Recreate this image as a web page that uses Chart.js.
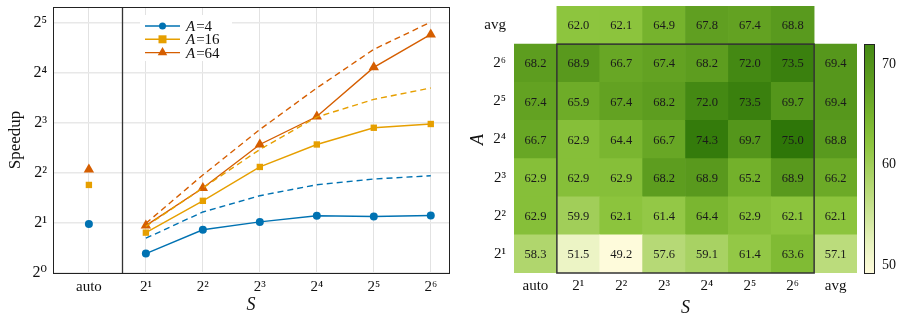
<!DOCTYPE html>
<html><head><meta charset="utf-8">
<script src="https://cdn.jsdelivr.net/npm/chart.js@4.4.0/dist/chart.umd.min.js"></script>
<style>
html,body{margin:0;padding:0;background:#fff;}
#wrap{position:relative;width:903px;height:320px;overflow:hidden;background:#fff;}
#c1{position:absolute;left:0;top:0;}
#c2{position:absolute;left:455px;top:0;}
</style></head><body>
<div id="wrap">
<canvas id="c1" width="460" height="320"></canvas>
<canvas id="c2" width="448" height="320"></canvas>
</div>
<script>
// ---------------- left panel data ----------------
const xTickLabels = ['auto', '2¹', '2²', '2³', '2⁴', '2⁵', '2⁶'];
const yTickValues = [1, 2, 4, 8, 16, 32];
const yTickLabels = ['2⁰', '2¹', '2²', '2³', '2⁴', '2⁵'];
const seriesNames = ['4', '16', '64'];
const autoSpeedup = [1.97, 3.39, 4.2];            // "auto" point for A=4, 16, 64
const speedA4  = [1.31, 1.82, 2.03, 2.21, 2.19, 2.22];   // S = 2^1 .. 2^6
const speedA16 = [1.75, 2.72, 4.35, 5.94, 7.49, 7.89];
const speedA64 = [1.93, 3.25, 5.94, 8.75, 17.3, 27.3];
const idealA4  = [1.62, 2.33, 2.92, 3.40, 3.68, 3.85];   // dashed lines
const idealA16 = [1.91, 3.25, 5.54, 8.69, 11.1, 13.0];
const idealA64 = [1.99, 3.89, 7.31, 13.0, 22.2, 32.4];

// ---------------- right panel data ----------------
const colLabels = ['auto', '2¹', '2²', '2³', '2⁴', '2⁵', '2⁶', 'avg'];
const rowLabels = ['2¹', '2²', '2³', '2⁴', '2⁵', '2⁶', 'avg'];   // bottom -> top
const heatA2  = [58.3, 51.5, 49.2, 57.6, 59.1, 61.4, 63.6, 57.1];
const heatA4  = [62.9, 59.9, 62.1, 61.4, 64.4, 62.9, 62.1, 62.1];
const heatA8  = [62.9, 62.9, 62.9, 68.2, 68.9, 65.2, 68.9, 66.2];
const heatA16 = [66.7, 62.9, 64.4, 66.7, 74.3, 69.7, 75.0, 68.8];
const heatA32 = [67.4, 65.9, 67.4, 68.2, 72.0, 73.5, 69.7, 69.4];
const heatA64 = [68.2, 68.9, 66.7, 67.4, 68.2, 72.0, 73.5, 69.4];
const heatAvg = [null, 62.0, 62.1, 64.9, 67.8, 67.4, 68.8, null];
const cbTicks = [50, 60, 70];
const cbMin = 49.2, cbMax = 72.0;

// ---------------- styles ----------------
const SERIF = "'Liberation Serif','DejaVu Serif',serif";
const BLUE = '#0072B2', YEL = '#E69F00', ORA = '#D55E00';
const seriesColors = [BLUE, YEL, ORA];
const seriesMarkers = ['circle', 'rect', 'triangle'];
const markerRadius = [4, 4.5, 6];

const cmapStops = [
  [49.2, [254, 251, 219]], [52, [232, 243, 192]], [57, [188, 220, 125]],
  [60, [160, 206, 88]], [62, [141, 197, 62]], [65, [117, 178, 44]],
  [68, [94, 158, 32]], [70, [82, 148, 26]], [73.5, [58, 128, 14]], [75, [46, 118, 8]]
];
function cmap(v) {
  if (v <= cmapStops[0][0]) return 'rgb(' + cmapStops[0][1].join(',') + ')';
  for (let i = 1; i < cmapStops.length; i++) {
    if (v <= cmapStops[i][0]) {
      const [a, ca] = cmapStops[i - 1], [b, cb] = cmapStops[i];
      const t = (v - a) / (b - a);
      return 'rgb(' + ca.map((c, k) => Math.round(c + (cb[k] - c) * t)).join(',') + ')';
    }
  }
  return 'rgb(' + cmapStops[cmapStops.length - 1][1].join(',') + ')';
}
function fitV(w) { return s => { s.width = w; s.paddingTop = 0; s.paddingBottom = 0; }; }
function fitH(h) { return s => { s.height = h; s.paddingLeft = 0; s.paddingRight = 0; }; }

// ---------------- left chart ----------------
const speedSeries = [speedA4, speedA16, speedA64];
const idealSeries = [idealA4, idealA16, idealA64];
const pts = arr => arr.map((v, i) => ({ x: i + 1, y: v }));
const leftDatasets = [];
idealSeries.forEach((arr, k) => leftDatasets.push({
  label: 'ideal A=' + seriesNames[k], data: pts(arr), showLine: true,
  borderColor: seriesColors[k], borderWidth: 1.4, borderDash: [6, 4], pointRadius: 0
}));
speedSeries.forEach((arr, k) => leftDatasets.push({
  label: 'A=' + seriesNames[k], data: pts(arr), showLine: true,
  borderColor: seriesColors[k], backgroundColor: seriesColors[k], borderWidth: 1.4,
  pointStyle: seriesMarkers[k], pointRadius: markerRadius[k], pointBorderWidth: 0
}));
autoSpeedup.forEach((v, k) => leftDatasets.push({
  label: 'auto A=' + seriesNames[k], data: [{ x: 0, y: v }], showLine: false,
  borderColor: seriesColors[k], backgroundColor: seriesColors[k],
  pointStyle: seriesMarkers[k], pointRadius: markerRadius[k], pointBorderWidth: 0
}));

function drawMarker(ctx, style, x, y, r, color) {
  ctx.save(); ctx.fillStyle = color; ctx.beginPath();
  if (style === 'circle') ctx.arc(x, y, r, 0, Math.PI * 2);
  else if (style === 'rect') ctx.rect(x - r, y - r, 2 * r, 2 * r);
  else { ctx.moveTo(x, y - r); ctx.lineTo(x + r * 0.866, y + r * 0.5); ctx.lineTo(x - r * 0.866, y + r * 0.5); ctx.closePath(); }
  ctx.fill(); ctx.restore();
}

const leftDecor = {
  id: 'leftDecor',
  beforeDatasetsDraw(chart) {
    const { ctx, chartArea: a, scales } = chart;
    ctx.save();
    const sx = Math.round(scales.x.getPixelForValue(0.58)) + 0.5;
    ctx.strokeStyle = '#333'; ctx.lineWidth = 1.3;
    ctx.beginPath(); ctx.moveTo(sx, a.top); ctx.lineTo(sx, a.bottom); ctx.stroke();
    ctx.restore();
  },
  afterDatasetsDraw(chart) {
    const { ctx, chartArea: a } = chart;
    ctx.save();
    // legend
    const lx = a.left + 92, ly = a.top + 19;
    ctx.fillStyle = '#fff'; ctx.fillRect(lx - 5, ly - 11, 92, 46);
    seriesNames.forEach((n, k) => {
      const y = ly + k * 13.3;
      ctx.strokeStyle = seriesColors[k]; ctx.lineWidth = 1.4;
      ctx.beginPath(); ctx.moveTo(lx, y); ctx.lineTo(lx + 35, y); ctx.stroke();
      drawMarker(ctx, seriesMarkers[k], lx + 17.5, y, markerRadius[k] - 0.5, seriesColors[k]);
      ctx.fillStyle = '#111'; ctx.textBaseline = 'middle'; ctx.textAlign = 'left';
      ctx.font = 'italic 15px ' + SERIF; ctx.fillText('A', lx + 41, y + 1);
      const w = ctx.measureText('A').width;
      ctx.font = '15px ' + SERIF; ctx.fillText('=' + n, lx + 41 + w + 1, y + 1);
    });
    // frame
    ctx.strokeStyle = '#222'; ctx.lineWidth = 1;
    ctx.strokeRect(Math.round(a.left) + 0.5, Math.round(a.top) + 0.5, Math.round(a.right - a.left), Math.round(a.bottom - a.top));
    ctx.restore();
  }
};

new Chart(document.getElementById('c1'), {
  type: 'scatter',
  data: { datasets: leftDatasets },
  options: {
    responsive: false, animation: false, devicePixelRatio: 1,
    layout: { padding: { top: 7, right: 11, left: 0, bottom: 0 } },
    plugins: { legend: { display: false }, tooltip: { enabled: false } },
    scales: {
      x: {
        type: 'linear', min: -0.63, max: 6.32,
        afterBuildTicks: s => { s.ticks = xTickLabels.map((_, i) => ({ value: i })); },
        afterFit: fitH(47),
        ticks: { callback: v => xTickLabels[v], color: '#111', font: { family: SERIF, size: 15 }, padding: 5, maxRotation: 0, autoSkip: false },
        grid: { color: '#e2e2e2', lineWidth: 1, drawTicks: false },
        border: { display: false },
        title: { display: true, text: 'S', color: '#111', font: { family: SERIF, size: 18, style: 'italic' }, padding: { top: 0, bottom: 4 } }
      },
      y: {
        type: 'logarithmic', min: 1, max: Math.pow(2, 5.32),
        afterBuildTicks: s => { s.ticks = yTickValues.map(v => ({ value: v })); },
        afterFit: fitV(53),
        ticks: { callback: v => yTickLabels[yTickValues.indexOf(v)], color: '#111', font: { family: SERIF, size: 16 }, padding: 6, autoSkip: false },
        grid: { color: '#e8e8e8', lineWidth: 1.5, drawTicks: false },
        border: { display: false },
        title: { display: true, text: 'Speedup', color: '#111', font: { family: SERIF, size: 17 }, padding: { top: 5, bottom: 0 } }
      }
    }
  },
  plugins: [leftDecor]
});

// ---------------- right chart (heatmap) ----------------
const heatRows = [heatA2, heatA4, heatA8, heatA16, heatA32, heatA64, heatAvg];
const heatDatasets = heatRows.map((row, r) => ({
  label: rowLabels[r],
  data: row.map(v => v == null ? null : [r, r + 1]),
  values: row,
  backgroundColor: row.map(v => v == null ? 'rgba(0,0,0,0)' : cmap(v)),
  borderWidth: 0, grouped: false, barPercentage: 1, categoryPercentage: 1
}));

const heatDecor = {
  id: 'heatDecor',
  afterDatasetsDraw(chart) {
    const { ctx, scales } = chart;
    ctx.save();
    // values
    ctx.font = '12.5px ' + SERIF; ctx.fillStyle = '#1a1a1a';
    ctx.textAlign = 'center'; ctx.textBaseline = 'middle';
    chart.data.datasets.forEach((ds, di) => {
      chart.getDatasetMeta(di).data.forEach((el, i) => {
        const v = ds.values[i];
        if (v == null) return;
        ctx.fillText(v.toFixed(1), el.x, (el.y + el.base) / 2 + 1);
      });
    });
    // frame around main block
    const x = scales.x, y = scales.y;
    const x0 = (x.getPixelForValue(0) + x.getPixelForValue(1)) / 2;
    const x1 = (x.getPixelForValue(6) + x.getPixelForValue(7)) / 2;
    const y0 = y.getPixelForValue(6), y1 = y.getPixelForValue(0);
    ctx.strokeStyle = '#333'; ctx.lineWidth = 1.5;
    ctx.strokeRect(x0, y0, x1 - x0, y1 - y0);
    // colorbar
    const cb = scales.cb, a = chart.chartArea;
    const cx = Math.round(a.right) + 7, cw = 10;
    const top = cb.getPixelForValue(cbMax), bot = cb.getPixelForValue(cbMin);
    const g = ctx.createLinearGradient(0, bot, 0, top);
    for (let i = 0; i <= 40; i++) g.addColorStop(i / 40, cmap(cbMin + (cbMax - cbMin) * i / 40));
    ctx.fillStyle = g; ctx.fillRect(cx, top, cw, bot - top);
    ctx.strokeStyle = '#222'; ctx.lineWidth = 1;
    ctx.strokeRect(cx + 0.5, Math.round(top) + 0.5, cw, Math.round(bot - top));
    ctx.restore();
  }
};

new Chart(document.getElementById('c2'), {
  type: 'bar',
  data: { labels: colLabels, datasets: heatDatasets },
  options: {
    responsive: false, animation: false, devicePixelRatio: 1,
    layout: { padding: { top: 6, right: 0, left: 0, bottom: 0 } },
    plugins: { legend: { display: false }, tooltip: { enabled: false } },
    scales: {
      x: {
        type: 'category',
        afterFit: fitH(47),
        ticks: { color: '#111', font: { family: SERIF, size: 15 }, padding: 4, maxRotation: 0, autoSkip: false },
        grid: { display: false, drawTicks: false }, border: { display: false },
        title: { display: true, text: 'S', color: '#111', font: { family: SERIF, size: 18, style: 'italic' }, padding: { top: 0, bottom: 1 } }
      },
      y: {
        type: 'linear', min: 0, max: rowLabels.length,
        afterBuildTicks: s => { s.ticks = rowLabels.map((_, i) => ({ value: i + 0.5 })); },
        afterFit: fitV(59),
        ticks: { callback: v => rowLabels[Math.floor(v)], color: '#111', font: { family: SERIF, size: 15 }, padding: 8, autoSkip: false },
        grid: { display: false, drawTicks: false }, border: { display: false },
        title: { display: true, text: 'A', color: '#111', font: { family: SERIF, size: 18, style: 'italic' }, padding: { top: 12, bottom: 0 } }
      },
      cb: {
        type: 'linear', position: 'right', axis: 'y',
        min: cbMin, max: cbMin + (cbMax - cbMin) * 7 / 6,
        afterBuildTicks: s => { s.ticks = cbTicks.map(v => ({ value: v })); },
        afterFit: fitV(46),
        ticks: { color: '#111', font: { family: SERIF, size: 14 }, padding: 25 },
        grid: { display: false, drawTicks: false }, border: { display: false }
      }
    }
  },
  plugins: [heatDecor]
});
</script>
</body></html>
